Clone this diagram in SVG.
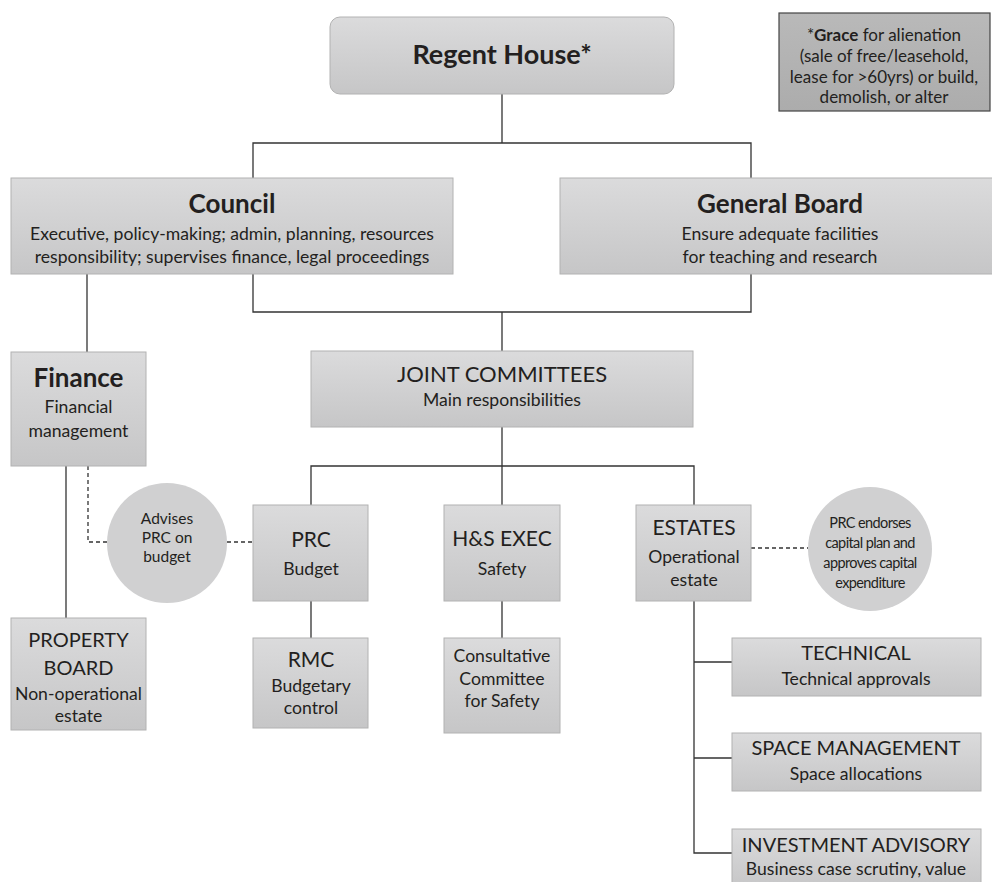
<svg xmlns="http://www.w3.org/2000/svg" width="992" height="882" viewBox="0 0 992 882">
<defs>
<linearGradient id="g" x1="0" y1="0" x2="0" y2="1">
<stop offset="0" stop-color="#dbdbdc"/>
<stop offset="1" stop-color="#c6c6c7"/>
</linearGradient>
<linearGradient id="gd" x1="0" y1="0" x2="0" y2="1">
<stop offset="0" stop-color="#b9b9b9"/>
<stop offset="1" stop-color="#acacac"/>
</linearGradient>
<style>
.box{fill:url(#g);stroke:#b2b2b2;stroke-width:1}
.circ{fill:#d0d0d1}
.ln{fill:none;stroke:#333;stroke-width:1.3}
.dash{fill:none;stroke:#333;stroke-width:1.3;stroke-dasharray:4 3}
text{font-family:Lato,"Open Sans","Liberation Sans",sans-serif;fill:#231f20;text-anchor:middle}
.t{font-size:26px;font-weight:bold}
.c{font-size:21px}
.c2{font-size:20px}
.s{font-size:17.6px}
.a{font-size:15.5px}
.n{font-size:14.5px;letter-spacing:-0.6px}
</style>
</defs>
<g id="connectors">
<path class="ln" d="M502 94V143M253 178V143H751V178"/>
<path class="ln" d="M253 274V312H751V274M502 312V351"/>
<path class="ln" d="M87 274V352"/>
<path class="ln" d="M66 466V618"/>
<path class="dash" d="M88 466V542H107M227 542H253"/>
<path class="ln" d="M502 427V505M311 505V466H694V505"/>
<path class="ln" d="M311 601V638M502 601V638"/>
<path class="dash" d="M751 548H808"/>
<path class="ln" d="M694 601V853H732M694 662H732M694 758H732"/>
</g>
<g id="regent-house">
<rect class="box" x="330" y="17" width="344" height="77" rx="10"/>
<text class="t" x="502" y="64" style="font-size:27px">Regent House*</text>
</g>
<g id="grace-note">
<rect x="779" y="13" width="211" height="98" fill="url(#gd)" stroke="#444" stroke-width="1.2"/>
<text class="s" x="884" y="41" style="font-size:17px"><tspan>*</tspan><tspan font-weight="bold">Grace</tspan> for alienation</text>
<text class="s" x="884" y="62" style="font-size:17px">(sale of free/leasehold,</text>
<text class="s" x="884" y="83" style="font-size:17px">lease for &gt;60yrs) or build,</text>
<text class="s" x="884" y="103" style="font-size:17px">demolish, or alter</text>
</g>
<g id="council">
<rect class="box" x="11" y="178" width="442" height="96"/>
<text class="t" x="232" y="213">Council</text>
<text class="s" x="232" y="240">Executive, policy-making; admin, planning, resources</text>
<text class="s" x="232" y="263">responsibility; supervises finance, legal proceedings</text>
</g>
<g id="general-board">
<rect class="box" x="560" y="178" width="440" height="96"/>
<text class="t" x="780" y="213">General Board</text>
<text class="s" x="780" y="240">Ensure adequate facilities</text>
<text class="s" x="780" y="263">for teaching and research</text>
</g>
<g id="finance">
<rect class="box" x="11" y="352" width="135" height="114"/>
<text class="t" x="78.5" y="387">Finance</text>
<text class="s" x="78.5" y="413">Financial</text>
<text class="s" x="78.5" y="437">management</text>
</g>
<g id="joint-committees">
<rect class="box" x="311" y="351" width="382" height="76"/>
<text class="c" x="502" y="382" style="font-size:22px">JOINT COMMITTEES</text>
<text class="s" x="502" y="406">Main responsibilities</text>
</g>
<g id="advises">
<circle class="circ" cx="167" cy="543" r="60"/>
<text class="a" x="167" y="524">Advises</text>
<text class="a" x="167" y="543">PRC on</text>
<text class="a" x="167" y="562">budget</text>
</g>
<g id="prc">
<rect class="box" x="253" y="505" width="115" height="96"/>
<text class="c" x="311" y="547">PRC</text>
<text class="s" x="311" y="575">Budget</text>
</g>
<g id="hs-exec">
<rect class="box" x="444" y="505" width="116" height="96"/>
<text class="c" x="502" y="546">H&amp;S EXEC</text>
<text class="s" x="502" y="575">Safety</text>
</g>
<g id="estates">
<rect class="box" x="636" y="505" width="115" height="96"/>
<text class="c" x="694" y="535">ESTATES</text>
<text class="s" x="694" y="563">Operational</text>
<text class="s" x="694" y="586">estate</text>
</g>
<g id="prc-endorses">
<circle class="circ" cx="870" cy="549" r="62"/>
<text class="n" x="870" y="528">PRC endorses</text>
<text class="n" x="870" y="548">capital plan and</text>
<text class="n" x="870" y="568">approves capital</text>
<text class="n" x="870" y="588">expenditure</text>
</g>
<g id="property-board">
<rect class="box" x="11" y="618" width="135" height="112"/>
<text class="c2" x="78.5" y="647">PROPERTY</text>
<text class="c2" x="78.5" y="675">BOARD</text>
<text class="s" x="78.5" y="700">Non-operational</text>
<text class="s" x="78.5" y="722">estate</text>
</g>
<g id="rmc">
<rect class="box" x="253" y="638" width="115" height="90"/>
<text class="c" x="311" y="667">RMC</text>
<text class="s" x="311" y="692">Budgetary</text>
<text class="s" x="311" y="714">control</text>
</g>
<g id="consultative">
<rect class="box" x="444" y="638" width="116" height="95"/>
<text class="s" x="502" y="662">Consultative</text>
<text class="s" x="502" y="685">Committee</text>
<text class="s" x="502" y="707">for Safety</text>
</g>
<g id="technical">
<rect class="box" x="732" y="638" width="249" height="58"/>
<text class="c2" x="856" y="660">TECHNICAL</text>
<text class="s" x="856" y="685">Technical approvals</text>
</g>
<g id="space-management">
<rect class="box" x="732" y="733" width="249" height="58"/>
<text class="c2" x="856" y="755">SPACE MANAGEMENT</text>
<text class="s" x="856" y="780">Space allocations</text>
</g>
<g id="investment-advisory">
<rect class="box" x="732" y="829" width="249" height="60"/>
<text class="c2" x="856" y="852">INVESTMENT ADVISORY</text>
<text class="s" x="856" y="875">Business case scrutiny, value</text>
</g>
</svg>
